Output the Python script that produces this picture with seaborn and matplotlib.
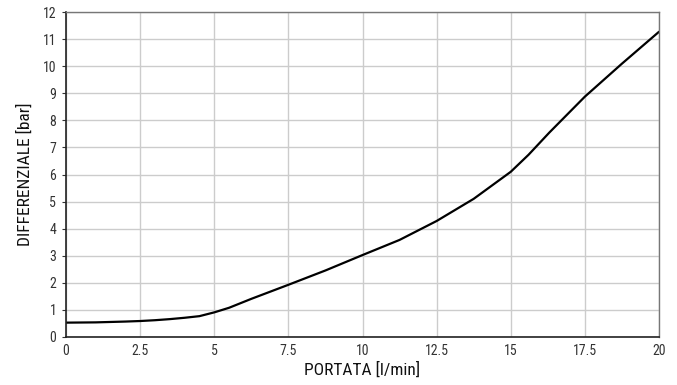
import matplotlib
matplotlib.use("Agg")
import matplotlib.pyplot as plt
from matplotlib import font_manager
import seaborn as sns
import pandas as pd

portata = [0, 1, 2, 2.5, 3, 3.5, 4, 4.5, 5, 5.5, 6.25, 7.5, 8.75, 10, 11.25,
           12.5, 13.75, 15, 15.6, 16.3, 17.5, 18.75, 20]
differenziale = [0.52, 0.53, 0.56, 0.58, 0.61, 0.65, 0.70, 0.76, 0.90, 1.07, 1.40,
                 1.92, 2.45, 3.02, 3.58, 4.28, 5.10, 6.10, 6.73, 7.55, 8.88, 10.10, 11.28]
x_ticks = [0, 2.5, 5, 7.5, 10, 12.5, 15, 17.5, 20]
x_tick_labels = ["0", "2.5", "5", "7.5", "10", "12.5", "15", "17.5", "20"]
y_ticks = list(range(0, 13))

sns.set_theme(style="white")
names = {f.name for f in font_manager.fontManager.ttflist}
fams = [f for f in ["Liberation Sans Narrow", "Roboto Condensed", "Liberation Sans"] if f in names]
plt.rcParams['font.family'] = fams + ["DejaVu Sans"]

df = pd.DataFrame({"x": portata, "y": differenziale})

fig = plt.figure(figsize=(6.77, 3.85), dpi=100)
ax = fig.add_axes([66/677, 1 - 336.7/385, (659 - 66)/677, (336.7 - 12.3)/385])

sns.lineplot(data=df, x="x", y="y", ax=ax, color="black", linewidth=1.6)

ax.set_xlim(0, 20)
ax.set_ylim(0, 12)
ax.set_xticks(x_ticks)
ax.set_xticklabels(x_tick_labels)
ax.set_yticks(y_ticks)
ax.grid(True, color="#cccccc", linewidth=1.0)
ax.set_axisbelow(True)

for s in ["left", "bottom"]:
    ax.spines[s].set_color("#222222")
    ax.spines[s].set_linewidth(1.2)
for s in ["top", "right"]:
    ax.spines[s].set_color("#777777")
    ax.spines[s].set_linewidth(1.0)

ax.tick_params(axis="both", labelsize=10, colors="#333333", length=3, width=0.8,
               direction="out", left=True, bottom=True, pad=4)
ax.tick_params(axis="x", length=0, pad=5)

ax.set_xlabel("PORTATA [l/min]", fontsize=12.5, color="#111111", labelpad=3)
ax.set_ylabel("DIFFERENZIALE [bar]", fontsize=12.5, color="#111111", labelpad=7)

fig.savefig("out.png", dpi=100)
